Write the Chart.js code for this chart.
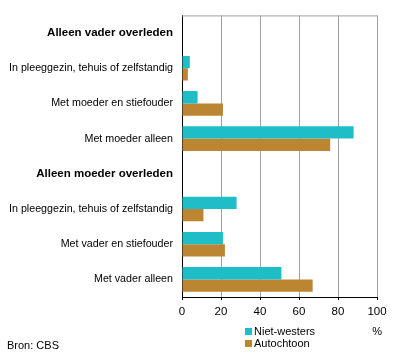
<!DOCTYPE html>
<html>
    <head>
        <meta charset="UTF-8">
        <title>Kinderen na overlijden ouder</title>
        <script src="https://cdn.jsdelivr.net/npm/chart.js"></script>
        <style>
            body { margin: 0; background: #ffffff; }
            #wrap { position: relative; width: 396px; height: 358px; }
        </style>
    </head>
    <body>
        <div id="wrap">
            <canvas id="chart_canvas" width="396" height="358"></canvas>
        </div>

    <script>
//                                                              DATA
//---------------------------------------------------------------------------------------------------------------------------------------------------------
    const categories = [
        'Alleen vader overleden',
        'In pleeggezin, tehuis of zelfstandig',
        'Met moeder en stiefouder',
        'Met moeder alleen',
        'Alleen moeder overleden',
        'In pleeggezin, tehuis of zelfstandig',
        'Met vader en stiefouder',
        'Met vader alleen'
    ];
    const headerRows = [0, 4];

    const niet_westers = [null, 4, 8, 88, null, 28, 21, 51];
    const autochtoon   = [null, 3, 21, 76, null, 11, 22, 67];

    const seriesNames = ['Niet-westers', 'Autochtoon'];
    const seriesColors = ['#1fbec6', '#bb8531'];

    const xTicks = [0, 20, 40, 60, 80, 100];
    const unitLabel = '%';
    const sourceLabel = 'Bron: CBS';

    const FONT = '"Liberation Sans", Arial, sans-serif';

//                                                              EXTRA DRAWING (top border, legend, source)
//---------------------------------------------------------------------------------------------------------------------------------------------------------
    const extras = {
        id: 'extras',
        afterDraw(chart) {
            const ctx = chart.ctx;
            const area = chart.chartArea;
            ctx.save();

            // grey top border of the plot
            ctx.strokeStyle = '#a0a0a0';
            ctx.lineWidth = 1;
            ctx.beginPath();
            ctx.moveTo(area.left, area.top + 0.5);
            ctx.lineTo(area.right + 0.5, area.top + 0.5);
            ctx.stroke();

            // legend
            ctx.font = '11px ' + FONT;
            ctx.textBaseline = 'middle';
            ctx.textAlign = 'left';
            chart.data.datasets.forEach((ds, i) => {
                const y = 331 + i * 12;
                ctx.fillStyle = ds.backgroundColor;
                ctx.fillRect(245, y - 3, 7, 7);
                ctx.fillStyle = '#000000';
                ctx.fillText(ds.label, 254, y + 1);
            });

            // unit and source
            ctx.textAlign = 'right';
            ctx.fillText(unitLabel, 382, 332);
            ctx.textAlign = 'left';
            ctx.fillText(sourceLabel, 7, 346);

            ctx.restore();
        }
    };

//                                                              CHART
//---------------------------------------------------------------------------------------------------------------------------------------------------------
    Chart.defaults.font.family = FONT;
    Chart.defaults.font.size = 11;
    Chart.defaults.color = '#000000';

    new Chart(document.getElementById('chart_canvas'), {
        type: 'bar',
        data: {
            labels: categories,
            datasets: [
                { label: seriesNames[0], data: niet_westers, backgroundColor: seriesColors[0] },
                { label: seriesNames[1], data: autochtoon, backgroundColor: seriesColors[1] }
            ]
        },
        options: {
            indexAxis: 'y',
            responsive: false,
            animation: false,
            categoryPercentage: 0.7,
            barPercentage: 1.0,
            layout: {
                padding: { top: 15, right: 19, left: 0, bottom: 0 }
            },
            plugins: {
                legend: { display: false },
                tooltip: { enabled: false }
            },
            scales: {
                x: {
                    min: 0,
                    max: 100,
                    afterBuildTicks: (scale) => { scale.ticks = xTicks.map(v => ({ value: v })); },
                    afterFit: (scale) => { scale.height = 61; },
                    grid: {
                        color: '#a0a0a0',
                        drawTicks: true,
                        tickLength: 3,
                        tickColor: '#000000'
                    },
                    border: { color: '#000000' },
                    ticks: { padding: 5, font: { size: 11.5 } }
                },
                y: {
                    afterFit: (scale) => { scale.width = 182; },
                    grid: { display: false, drawTicks: false, tickLength: 0 },
                    border: { color: '#000000' },
                    ticks: {
                        padding: 9,
                        font: (ctx) => headerRows.includes(ctx.index)
                            ? { size: 11.5, weight: 'bold' }
                            : { size: 10.7, weight: 'normal' }
                    }
                }
            }
        },
        plugins: [extras]
    });

//                                                              END OF SCRIPT
//---------------------------------------------------------------------------------------------------------------------------------------------------------
    </script>
    </body>
</html>
